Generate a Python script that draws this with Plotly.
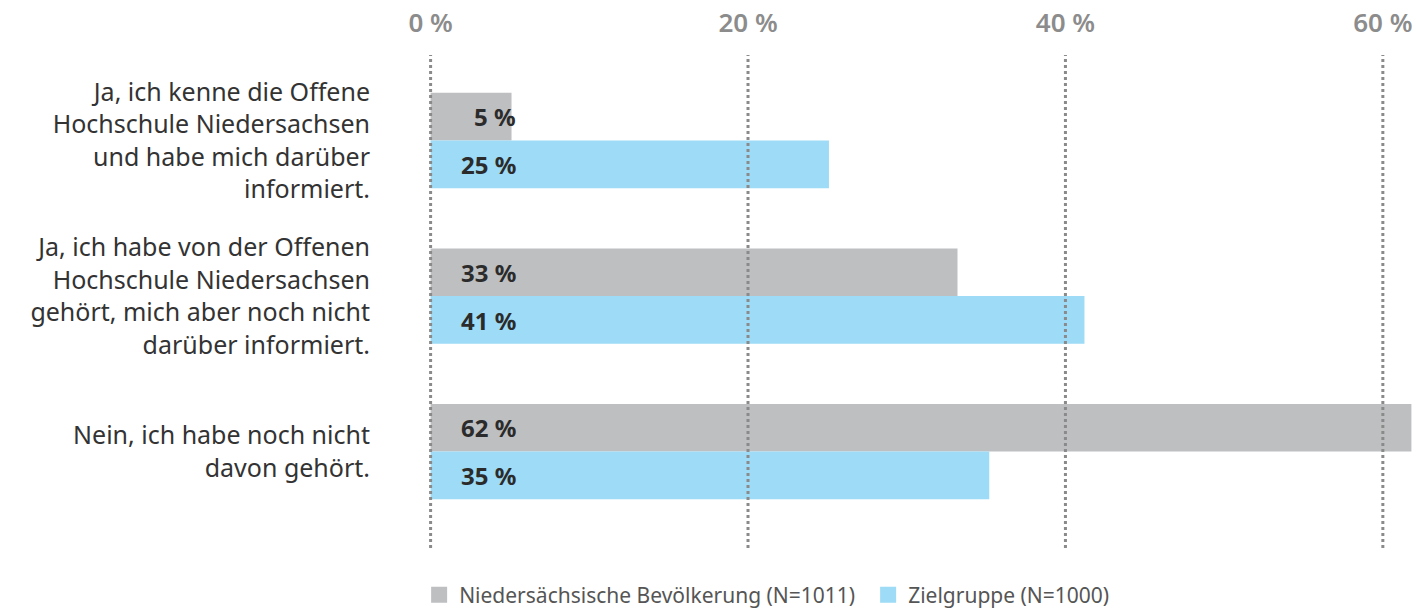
import plotly.graph_objects as go

categories = [
    "Ja, ich kenne die Offene<br>Hochschule Niedersachsen<br>und habe mich darüber<br>informiert.",
    "Ja, ich habe von der Offenen<br>Hochschule Niedersachsen<br>gehört, mich aber noch nicht<br>darüber informiert.",
    "Nein, ich habe noch nicht<br>davon gehört.",
]
series_names = ["Niedersächsische Bevölkerung (N=1011)", "Zielgruppe (N=1000)"]
bevoelkerung = [5.1, 33.2, 61.8]
zielgruppe = [25.1, 41.2, 35.2]
bevoelkerung_labels = ["5 %", "33 %", "62 %"]
zielgruppe_labels = ["25 %", "41 %", "35 %"]
tick_vals = [0, 20, 40, 60]
tick_text = ["0 %", "20 %", "40 %", "60 %"]

GRAY = "#bebfc1"
BLUE = "#9ddbf7"
FONT = "Noto Sans"

fig = go.Figure()
for name, vals, col in [(series_names[0], bevoelkerung, GRAY), (series_names[1], zielgruppe, BLUE)]:
    fig.add_trace(go.Bar(
        y=categories, x=vals, orientation="h", name=name,
        marker=dict(color=col, line=dict(width=0)), showlegend=False,
        hoverinfo="x+name",
    ))
    # legend proxies with large squares
    fig.add_trace(go.Scatter(
        x=[None], y=[None], mode="markers", name=name,
        marker=dict(symbol="square", size=20, color=col),
    ))

annotations = []
for labels, shift in [(bevoelkerung_labels, 24), (zielgruppe_labels, -24)]:
    for cat, lab in zip(categories, labels):
        annotations.append(dict(
            x=5.5, y=cat, xref="x", yref="y", text=lab, showarrow=False,
            xanchor="right", yanchor="middle", yshift=shift,
            font=dict(family=FONT, size=24, color="#2b2b2b", weight=700),
        ))

shapes = []
for tv in tick_vals:
    shapes.append(dict(
        type="line", xref="x", yref="paper", x0=tv, x1=tv, y0=0, y1=1,
        line=dict(color="#8a8a8a", width=3, dash="dot"), layer="above",
    ))

fig.update_layout(
    width=1416, height=609,
    margin=dict(l=429, r=3, t=55, b=61, autoexpand=False),
    paper_bgcolor="white", plot_bgcolor="white",
    barmode="group", bargap=0.387, bargroupgap=0,
    annotations=annotations, shapes=shapes,
    font=dict(family=FONT, color="#333333"),
    showlegend=True,
    legend=dict(
        orientation="h", xref="container", yref="container",
        x=0.296, xanchor="left", y=0.023, yanchor="middle",
        font=dict(family=FONT, size=21, color="#555555"),
        itemwidth=30, tracegroupgap=0, entrywidth=404, entrywidthmode="pixels",
    ),
)
fig.update_xaxes(
    range=[-0.1, 61.9], side="top", tickvals=tick_vals, ticktext=tick_text,
    showgrid=False, zeroline=False, showline=False, ticks="",
    tickfont=dict(family=FONT, size=26, color="#8c8c8c", weight=600),
    ticklabelstandoff=17, fixedrange=True, automargin=False,
)
fig.update_yaxes(
    range=[2.62, -0.55], showgrid=False, zeroline=False, showline=False,
    ticks="", tickfont=dict(family=FONT, size=25, color="#333333"),
    ticklabelstandoff=58, fixedrange=True, automargin=False,
)

fig.write_html("out.html", config={"displayModeBar": False},
               post_script="document.body.style.margin='0';")
